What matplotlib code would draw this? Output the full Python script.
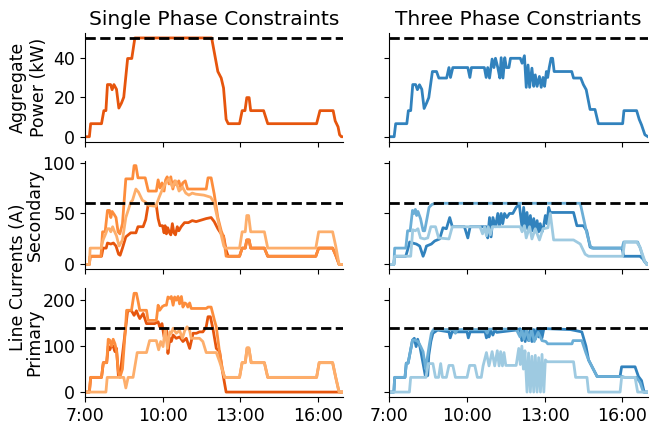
import matplotlib
matplotlib.use("Agg")
import matplotlib.pyplot as plt

# Data: (hour of day, value) pairs.

# Aggregate power (kW)
power_single = [(7.00, 0), (7.17, 0), (7.22, 6.6), (7.64, 6.6), (7.73, 13.2), (7.81, 13.2), (7.87, 26.4),
                (7.99, 26.4), (8.05, 23.8), (8.12, 26.4), (8.22, 24), (8.31, 14.5), (8.41, 17), (8.50, 20),
                (8.65, 39.6), (8.81, 39.6), (8.93, 50), (11.90, 50), (12.14, 33), (12.27, 29.7), (12.36, 24.7),
                (12.46, 8.8), (12.54, 6.6), (12.98, 6.6), (13.08, 13.2), (13.19, 13.2), (13.26, 19.8),
                (13.35, 19.8), (13.41, 13.2), (13.91, 13.2), (14.07, 6.6), (15.96, 6.6), (16.09, 13.2),
                (16.60, 13.2), (16.68, 8), (16.79, 5), (16.85, 1), (16.92, 0), (17.0, 0)]

power_three = [(7.0, 0), (7.18, 0), (7.24, 6.6), (7.67, 6.6), (7.73, 13.2), (7.82, 13.2), (7.90, 26.4),
               (8.01, 26.4), (8.08, 23.8), (8.16, 26.3), (8.25, 24), (8.34, 14.3), (8.44, 17.2), (8.52, 19.8),
               (8.66, 33), (8.82, 33), (8.91, 29.7), (9.21, 29.7), (9.30, 35), (9.36, 30), (9.45, 35),
               (10.03, 35), (10.11, 30), (10.17, 35), (10.67, 35), (10.74, 30), (10.80, 35), (10.87, 29.7),
               (10.97, 39.3), (11.04, 35), (11.10, 39.7), (11.19, 35), (11.27, 29.7), (11.32, 40),
               (11.39, 29.7), (11.46, 40), (11.52, 35), (11.62, 35), (11.68, 39.7), (12.06, 39.7),
               (12.13, 37.2), (12.22, 41), (12.29, 25), (12.36, 36.3), (12.42, 25), (12.51, 34.7),
               (12.58, 25.5), (12.64, 31.3), (12.71, 25.5), (12.80, 30.5), (12.87, 25), (12.94, 30),
               (13.00, 25.5), (13.07, 33), (13.12, 30), (13.18, 35), (13.25, 39.7), (13.31, 39.7), (13.37, 33),
               (13.48, 33), (14.05, 33), (14.12, 29.7), (14.40, 29.7), (14.50, 26.4), (14.61, 23.8),
               (14.76, 13.8), (14.95, 13.8), (15.08, 6.6), (16.02, 6.6), (16.07, 13.2), (16.56, 13.2),
               (16.66, 8.8), (16.75, 6), (16.88, 1), (17.0, 0)]

# Secondary line currents (A), single phase
sec_single_a = [(7.0, 0), (7.17, 0), (7.2, 8), (7.64, 8), (7.7, 16), (7.82, 16), (7.87, 21), (8.0, 20),
                (8.1, 21), (8.2, 18), (8.3, 10), (8.36, 9), (8.45, 16), (8.58, 27), (8.77, 31), (8.97, 31),
                (9.05, 37), (9.25, 37), (9.35, 44), (9.44, 58), (9.76, 58), (9.83, 45), (9.9, 38), (10.0, 38),
                (10.06, 31), (10.1, 38), (10.15, 30), (10.2, 36), (10.27, 31), (10.32, 29), (10.38, 40),
                (10.44, 31), (10.5, 29), (10.57, 37), (10.63, 33), (10.72, 37), (10.85, 41), (11.0, 41),
                (11.15, 43), (11.3, 42), (11.69, 45), (11.88, 46), (12.0, 42), (12.14, 35), (12.27, 30),
                (12.36, 28), (12.46, 14), (12.54, 8), (12.98, 8), (13.08, 16), (13.2, 16), (13.26, 24),
                (13.35, 24), (13.41, 16), (13.94, 16), (14.07, 8), (15.93, 8), (16.04, 16), (16.58, 16),
                (16.7, 9), (16.83, 0), (17.0, 0)]
sec_single_b = [(7.0, 0), (7.17, 0), (7.2, 8), (7.62, 8), (7.68, 32), (7.78, 32), (7.87, 53), (7.95, 53),
                (8.0, 46), (8.05, 52), (8.13, 49), (8.2, 46), (8.28, 32), (8.35, 30), (8.45, 40), (8.58, 84),
                (8.84, 84), (8.9, 97), (8.97, 97), (9.05, 85), (9.33, 85), (9.45, 72), (9.76, 72), (9.83, 83),
                (9.9, 75), (9.98, 80), (10.06, 72), (10.12, 83), (10.18, 86), (10.25, 79), (10.32, 86),
                (10.4, 74), (10.47, 82), (10.54, 78), (10.63, 82), (10.72, 74), (10.78, 80), (10.88, 82),
                (10.97, 74), (11.69, 74), (11.76, 85), (11.88, 85), (12.0, 69), (12.14, 46), (12.27, 33),
                (12.36, 27), (12.46, 8), (12.98, 8), (13.08, 16), (13.2, 16), (13.26, 24), (13.35, 24),
                (13.41, 16), (13.94, 16), (14.07, 8), (15.93, 8), (16.04, 16), (16.58, 16), (16.7, 9),
                (16.83, 0), (17.0, 0)]
sec_single_c = [(7.0, 0), (7.17, 0), (7.2, 16), (7.62, 16), (7.7, 24), (7.8, 30), (7.87, 35), (7.95, 35),
                (8.0, 32), (8.07, 37), (8.13, 33), (8.22, 28), (8.32, 18), (8.45, 24), (8.58, 46), (8.77, 61),
                (8.84, 63), (8.97, 74), (9.07, 71), (9.22, 63), (9.35, 61), (9.46, 58), (9.74, 57), (9.87, 66),
                (10.0, 74), (10.12, 80), (10.25, 84), (10.38, 76), (10.51, 82), (10.64, 72), (10.77, 76),
                (10.9, 70), (11.02, 68), (11.15, 70), (11.28, 69), (11.6, 68), (11.86, 66), (11.99, 61),
                (12.12, 46), (12.25, 31), (12.37, 18), (12.44, 16), (12.98, 16), (13.08, 32), (13.2, 32),
                (13.26, 48), (13.33, 48), (13.41, 32), (13.94, 32), (14.07, 16), (15.93, 16), (16.04, 32),
                (16.58, 32), (16.7, 18), (16.83, 0), (17.0, 0)]

# Primary line currents (A), single phase
pri_single_a = [(7.0, 0), (7.17, 0), (7.22, 32), (7.64, 32), (7.71, 64), (7.84, 64), (7.9, 100), (7.96, 92),
                (8.03, 102), (8.09, 100), (8.16, 88), (8.22, 95), (8.29, 37), (8.38, 48), (8.54, 124),
                (8.65, 177), (8.8, 177), (8.9, 167), (8.99, 177), (9.06, 167), (9.12, 160), (9.25, 171),
                (9.38, 149), (9.7, 149), (9.83, 153), (9.89, 142), (9.98, 149), (10.06, 120), (10.15, 138),
                (10.21, 84), (10.28, 117), (10.34, 110), (10.41, 124), (10.53, 117), (10.66, 120),
                (10.79, 110), (10.92, 117), (11.05, 95), (11.11, 110), (11.18, 128), (11.31, 128),
                (11.43, 131), (11.56, 131), (11.69, 142), (11.76, 164), (11.85, 164), (11.95, 138),
                (12.08, 95), (12.21, 88), (12.31, 48), (12.4, 19), (12.46, 0), (17.0, 0)]
pri_single_b = [(7.0, 0), (7.17, 0), (7.22, 32), (7.64, 32), (7.71, 64), (7.84, 64), (7.9, 115), (7.96, 113),
                (8.03, 100), (8.09, 115), (8.16, 105), (8.22, 90), (8.29, 45), (8.35, 32), (8.45, 50),
                (8.58, 150), (8.61, 178), (8.8, 178), (8.9, 215), (8.99, 215), (9.06, 196), (9.12, 178),
                (9.38, 178), (9.44, 156), (9.76, 156), (9.83, 189), (9.89, 178), (9.99, 186), (10.08, 189),
                (10.15, 189), (10.21, 207), (10.28, 204), (10.34, 208), (10.41, 189), (10.47, 207),
                (10.53, 200), (10.6, 208), (10.66, 192), (10.73, 208), (10.79, 185), (10.86, 194),
                (10.92, 192), (10.98, 185), (11.05, 194), (11.11, 182), (11.69, 182), (11.76, 185),
                (11.88, 185), (12.01, 156), (12.08, 142), (12.21, 85), (12.31, 52), (12.4, 32), (12.98, 32),
                (13.08, 64), (13.2, 64), (13.27, 96), (13.34, 96), (13.43, 64), (13.94, 64), (14.07, 32),
                (15.96, 32), (16.06, 64), (16.58, 64), (16.7, 32), (16.83, 0), (17.0, 0)]
pri_single_c = [(7.0, 0), (7.81, 0), (7.86, 32), (8.5, 32), (8.58, 9), (8.67, 32), (8.86, 32), (9.02, 86),
                (9.38, 86), (9.5, 112), (9.76, 112), (9.85, 92), (9.93, 110), (10.02, 99), (10.11, 139),
                (10.19, 95), (10.28, 131), (10.34, 128), (10.41, 139), (10.53, 128), (10.66, 134),
                (10.77, 117), (10.86, 134), (10.95, 142), (11.05, 134), (11.11, 117), (11.43, 117),
                (11.56, 110), (11.69, 86), (12.08, 86), (12.21, 66), (12.4, 32), (12.98, 32), (13.08, 64),
                (13.2, 64), (13.27, 96), (13.34, 96), (13.43, 64), (13.94, 64), (14.07, 32), (15.96, 32),
                (16.06, 64), (16.58, 64), (16.7, 32), (16.83, 0), (17.0, 0)]

# Secondary line currents (A), three phase
sec_three_a = [(7.0, 0), (7.17, 0), (7.2, 8), (7.63, 8), (7.72, 16), (7.78, 22), (7.89, 21), (8.04, 20),
               (8.17, 18), (8.3, 8), (8.36, 12), (8.43, 18), (8.62, 20), (8.75, 23), (8.94, 25), (9.07, 36),
               (9.2, 35), (9.33, 46), (9.43, 37), (9.9, 37), (10.03, 26), (10.12, 37), (10.74, 37),
               (10.8, 26), (10.87, 46), (10.93, 27), (11.0, 46), (11.1, 37), (11.19, 50), (11.25, 37),
               (11.32, 50), (11.38, 40), (11.45, 50), (11.54, 46), (11.64, 50), (11.77, 50), (11.9, 56),
               (12.02, 59), (12.13, 36), (12.19, 56), (12.26, 35), (12.32, 51), (12.38, 34), (12.45, 48),
               (12.51, 33), (12.58, 45), (12.64, 32), (12.71, 43), (12.77, 32), (12.83, 40), (12.9, 32),
               (12.96, 37), (13.03, 48), (13.09, 40), (13.16, 56), (13.22, 51), (14.12, 51), (14.25, 38),
               (14.5, 38), (14.63, 33), (14.76, 17), (14.89, 16), (16.0, 16), (16.06, 8), (16.69, 8),
               (16.82, 5), (16.95, 0), (17.0, 0)]
sec_three_b = [(7.0, 0), (7.17, 0), (7.2, 16), (7.63, 16), (7.7, 33), (7.8, 33), (7.89, 53), (7.95, 50),
               (8.0, 54), (8.05, 48), (8.1, 52), (8.2, 45), (8.3, 33), (8.36, 33), (8.45, 45), (8.53, 56),
               (8.65, 59), (8.8, 60), (14.38, 60), (14.5, 46), (14.64, 30), (14.77, 18), (14.83, 16),
               (16.0, 16), (16.06, 22), (16.6, 22), (16.7, 16), (16.85, 3), (17.0, 0)]
sec_three_c = [(7.0, 0), (7.17, 0), (7.2, 8), (7.82, 8), (7.9, 34), (8.0, 33), (8.1, 35), (8.2, 26),
               (8.35, 25), (8.48, 26), (8.6, 37), (8.78, 37), (8.9, 26), (9.3, 25), (9.43, 37), (10.5, 37),
               (10.6, 30), (10.68, 37), (10.75, 28), (10.82, 37), (10.9, 29), (10.98, 37), (12.06, 37),
               (12.13, 32), (12.22, 38), (12.29, 26), (12.42, 37), (12.51, 25), (12.64, 35), (12.8, 24),
               (12.94, 35), (13.13, 36), (13.22, 50), (13.35, 24), (14.12, 24), (14.38, 20), (14.57, 10),
               (14.7, 8), (16.02, 8), (16.1, 22), (16.56, 22), (16.69, 17), (16.88, 3), (16.95, 0), (17.0, 0)]

# Primary line currents (A), three phase
pri_three_a = [(7.0, 0), (7.17, 0), (7.2, 32), (7.6, 32), (7.65, 63), (7.72, 63), (7.89, 113), (7.96, 117),
               (8.03, 99), (8.09, 115), (8.18, 98), (8.3, 62), (8.39, 34), (8.48, 36), (8.52, 80), (8.6, 110),
               (8.68, 128), (8.86, 135), (9.3, 131), (9.35, 118), (9.42, 131), (10.0, 131), (10.05, 118),
               (10.12, 131), (10.7, 131), (10.75, 118), (10.8, 135), (10.85, 120), (10.9, 135), (11.0, 124),
               (11.07, 135), (11.15, 130), (11.9, 135), (12.05, 138), (12.12, 112), (12.18, 138),
               (12.25, 110), (12.31, 136), (12.38, 112), (12.45, 135), (12.51, 110), (12.58, 136),
               (12.64, 115), (12.71, 138), (12.77, 120), (12.84, 138), (12.9, 118), (12.97, 138),
               (13.1, 138), (14.0, 136), (14.44, 131), (14.6, 100), (14.7, 70), (15.03, 34), (15.92, 34),
               (15.98, 55), (16.5, 55), (16.63, 34), (16.75, 25), (16.85, 0), (17.0, 0)]
pri_three_b = [(7.0, 0), (7.17, 0), (7.2, 32), (7.6, 32), (7.65, 63), (7.72, 63), (7.89, 113), (7.98, 113),
               (8.1, 110), (8.2, 100), (8.3, 88), (8.4, 50), (8.45, 70), (8.55, 106), (8.62, 128), (8.7, 136),
               (9.5, 136), (9.55, 128), (9.62, 136), (10.7, 136), (10.78, 128), (10.84, 137), (11.9, 137),
               (12.05, 120), (12.12, 136), (12.2, 115), (12.3, 136), (12.4, 112), (12.5, 136), (12.6, 110),
               (12.75, 130), (12.9, 112), (13.05, 110), (13.12, 105), (14.06, 105), (14.1, 112),
               (14.44, 112), (14.6, 85), (14.7, 70), (15.03, 34), (16.0, 34), (16.1, 32), (16.56, 32),
               (16.7, 20), (16.82, 0), (17.0, 0)]
pri_three_c = [(7.0, 0), (7.77, 0), (7.82, 32), (8.41, 32), (8.5, 62), (8.68, 62), (8.78, 32), (8.9, 32),
               (8.98, 62), (9.05, 32), (9.2, 32), (9.3, 58), (9.45, 58), (9.55, 32), (10.0, 32), (10.1, 58),
               (10.3, 58), (10.4, 32), (10.55, 32), (10.62, 57), (10.75, 86), (10.85, 57), (10.97, 88),
               (11.07, 57), (11.17, 90), (11.24, 57), (11.3, 88), (11.37, 57), (11.43, 86), (11.5, 58),
               (11.9, 58), (12.0, 95), (12.06, 60), (12.12, 100), (12.18, 50), (12.24, 90), (12.32, 0),
               (12.38, 85), (12.45, 0), (12.51, 78), (12.58, 0), (12.64, 80), (12.71, 0), (12.77, 75),
               (12.84, 0), (12.9, 82), (12.97, 0), (13.03, 70), (13.1, 66), (14.12, 66), (14.2, 32),
               (14.64, 32), (14.7, 0), (15.92, 0), (15.98, 32), (16.5, 32), (16.6, 0), (17.0, 0)]

limits = [50, 60, 140]
ytick_sets = [[0, 20, 40], [0, 50, 100], [0, 100, 200]]
xtick_hours = [7, 10, 13, 16]
xtick_labels = ["7:00", "10:00", "13:00", "16:00"]
oranges = ["#e6550d", "#fd8d3c", "#fdae6b"]
blues = ["#3182bd", "#6baed6", "#9ecae1"]

plt.rcParams["font.size"] = 12.5

fig, axes = plt.subplots(3, 2, figsize=(6.67, 4.28), dpi=100, sharex=True, sharey="row")
fig.subplots_adjust(left=0.1274, right=0.9715, top=0.9229, bottom=0.0724,
                    wspace=0.178, hspace=0.175)

rows = [
    ([power_single], [power_three]),
    ([sec_single_a, sec_single_b, sec_single_c], [sec_three_a, sec_three_b, sec_three_c]),
    ([pri_single_a, pri_single_b, pri_single_c], [pri_three_a, pri_three_b, pri_three_c]),
]

for r, (left, right) in enumerate(rows):
    for c, (group, colors) in enumerate([(left, oranges), (right, blues)]):
        ax = axes[r, c]
        for series, col in zip(group, colors):
            t = [p[0] for p in series]
            v = [p[1] for p in series]
            ax.plot(t, v, color=col, lw=2)
        ax.axhline(limits[r], color="k", ls="--", lw=2)
        ax.spines["top"].set_visible(False)
        ax.spines["right"].set_visible(False)
        ax.set_yticks(ytick_sets[r])

axes[0, 0].set_xlim(7, 17)
axes[2, 0].set_xticks(xtick_hours)
axes[2, 0].set_xticklabels(xtick_labels)

axes[0, 0].set_title("Single Phase Constraints", fontsize=14.5)
axes[0, 1].set_title("Three Phase Constriants", fontsize=14.5)

axes[0, 0].set_ylabel("Aggregate\nPower (kW)")
axes[1, 0].set_ylabel("Secondary")
axes[2, 0].set_ylabel("Primary")
axes[1, 0].yaxis.set_label_coords(-0.16, 0.5)
axes[2, 0].yaxis.set_label_coords(-0.16, 0.5)
# shared label for the two current rows
fig.text(0.027, 0.353, "Line Currents (A)", rotation=90, ha="center", va="center")

fig.savefig("out.png", dpi=100)
